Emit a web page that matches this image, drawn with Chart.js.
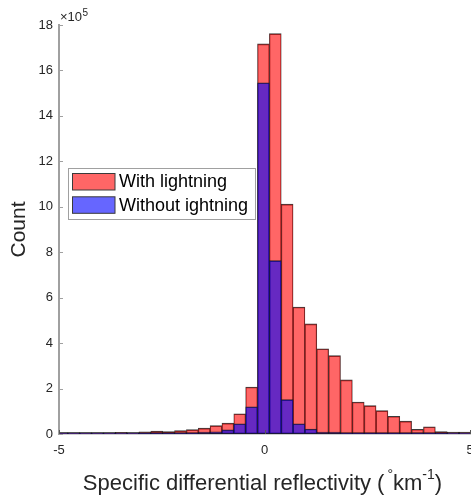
<!DOCTYPE html>
<html>
<head>
<meta charset="utf-8">
<script src="https://cdn.jsdelivr.net/npm/chart.js@4.4.1/dist/chart.umd.min.js"></script>
<style>
  html, body { margin: 0; padding: 0; background: #fff; }
  #wrap { width: 471px; height: 502px; }
</style>
</head>
<body>
<div id="wrap"><canvas id="grafico-histograma" width="471" height="502"></canvas></div>
<script>
// Centros dos bins (graus/km)
const binCenters = [-4.929, -4.640, -4.352, -4.064, -3.775, -3.487, -3.198, -2.910, -2.622, -2.333,
    -2.045, -1.756, -1.468, -1.180, -0.891, -0.603, -0.314, -0.026, 0.263, 0.551,
    0.839, 1.128, 1.416, 1.705, 1.993, 2.281, 2.570, 2.858, 3.147, 3.435,
    3.723, 4.012, 4.300, 4.589, 4.877];

// Contagens por bin
const withLightning = [4000, 1000, 2000, 6000, 2000, 7000, 3000, 10000, 13000, 11000,
    15000, 19000, 26000, 37000, 48000, 89000, 207000, 1717000, 1762000, 1012000,
    559000, 485000, 375000, 345000, 238000, 141000, 125000, 103000, 78000, 57000,
    21000, 32000, 11000, 8000, 8000];
const withoutLightning = [1000, 1000, 1000, 1000, 1000, 1000, 1000, 1000, 2000, 4000,
    4000, 6000, 9000, 10000, 18000, 45000, 120000, 1546000, 763000, 151000,
    45000, 22000, 9000, 9000, 4000, 2000, 1000, 1000, 1000, 1000,
    1000, 1000, 1000, 1000, 1000];

const seriesLabels = ['With lightning', 'Without ightning'];
const xTickValues = [-5, 0, 5];
const yTickStep = 200000;

const FONTE = "'Liberation Sans', Arial, Helvetica, sans-serif";
const COR_TEXTO = '#262626';
const COR_EIXO = '#a0a0a0';

// Desenha ticks internos, multiplicador x10^5, titulo do eixo x e legenda
const extrasPlugin = {
    id: 'extras',
    afterDraw(chart) {
        const ctx = chart.ctx;
        const area = chart.chartArea;
        const sx = chart.scales.x;
        const sy = chart.scales.y;
        ctx.save();

        // ticks para dentro (estilo MATLAB)
        ctx.strokeStyle = COR_EIXO;
        ctx.lineWidth = 1;
        sy.ticks.forEach(t => {
            const py = Math.round(sy.getPixelForValue(t.value)) + 0.5;
            ctx.beginPath();
            ctx.moveTo(area.left, py);
            ctx.lineTo(area.left + 4, py);
            ctx.stroke();
        });
        ctx.strokeStyle = '#555';
        sx.ticks.forEach(t => {
            const px = Math.round(sx.getPixelForValue(t.value)) + 0.5;
            ctx.beginPath();
            ctx.moveTo(px, area.bottom);
            ctx.lineTo(px, area.bottom - 4);
            ctx.stroke();
        });

        // multiplicador x10^5
        ctx.fillStyle = COR_TEXTO;
        ctx.textBaseline = 'alphabetic';
        ctx.textAlign = 'left';
        ctx.font = '13px ' + FONTE;
        ctx.fillText('\u00d710', area.left + 1, 21);
        const wMult = ctx.measureText('\u00d710').width;
        ctx.font = '10px ' + FONTE;
        ctx.fillText('5', area.left + 1 + wMult + 0.5, 16);

        // titulo do eixo x com sobrescritos
        const partes = [
            { t: 'Specific differential reflectivity (', sup: false },
            { t: '\u00b0', sup: true },
            { t: 'km', sup: false },
            { t: '-1', sup: true },
            { t: ')', sup: false }
        ];
        const fonteNormal = '22px ' + FONTE;
        const fonteSup = '14px ' + FONTE;
        let total = 0;
        partes.forEach(p => {
            ctx.font = p.sup ? fonteSup : fonteNormal;
            p.w = ctx.measureText(p.t).width + (p.t === '\u00b0' ? 3 : 0);
            total += p.w;
        });
        let cx = 262.5 - total / 2;
        const base = 490;
        partes.forEach(p => {
            ctx.font = p.sup ? fonteSup : fonteNormal;
            ctx.fillText(p.t, cx + (p.t === '\u00b0' ? 3 : 0), p.sup ? base - 11 : base);
            cx += p.w;
        });

        // legenda dentro da area do grafico
        const lx = 68.5, ly = 168.5, lw = 187, lh = 51;
        ctx.fillStyle = '#fff';
        ctx.fillRect(lx, ly, lw, lh);
        ctx.strokeStyle = '#a0a0a0';
        ctx.lineWidth = 1;
        ctx.strokeRect(lx, ly, lw, lh);
        const ordem = [0, 1];
        ordem.forEach((i, k) => {
            const ds = chart.data.datasets[i];
            const yTop = 173.5 + k * 23.3;
            ctx.fillStyle = '#fff';
            ctx.fillRect(72.5, yTop, 42.5, 16.5);
            ctx.fillStyle = ds.backgroundColor;
            ctx.fillRect(72.5, yTop, 42.5, 16.5);
            ctx.strokeStyle = '#3a3a3a';
            ctx.strokeRect(72.5, yTop, 42.5, 16.5);
            ctx.fillStyle = '#000';
            ctx.font = '18px ' + FONTE;
            ctx.textBaseline = 'middle';
            ctx.fillText(ds.label, 119, yTop + 9);
        });

        ctx.restore();
    }
};

const ctx = document.getElementById('grafico-histograma').getContext('2d');

new Chart(ctx, {
    type: 'bar',
    data: {
        datasets: [
            {
                label: seriesLabels[0],
                data: binCenters.map((x, i) => ({ x: x, y: withLightning[i] })),
                backgroundColor: 'rgba(255, 0, 0, 0.6)',
                borderColor: 'rgba(25, 25, 25, 0.85)',
                borderWidth: { top: 1, bottom: 1, left: 0.6, right: 0.6 },
                borderSkipped: false,
                minBarLength: 1.5,
                grouped: false,
                order: 2,
                barPercentage: 1,
                categoryPercentage: 1
            },
            {
                label: seriesLabels[1],
                data: binCenters.map((x, i) => ({ x: x, y: withoutLightning[i] })),
                backgroundColor: 'rgba(0, 0, 255, 0.6)',
                borderColor: 'rgba(25, 25, 25, 0.85)',
                borderWidth: { top: 1, bottom: 1, left: 0.6, right: 0.6 },
                borderSkipped: false,
                minBarLength: 1.5,
                grouped: false,
                order: 1,
                barPercentage: 1,
                categoryPercentage: 1
            }
        ]
    },
    options: {
        responsive: false,
        animation: false,
        devicePixelRatio: 1,
        layout: { padding: { top: 25, right: 1, left: 0, bottom: 0 } },
        plugins: {
            legend: { display: false },
            tooltip: { enabled: false }
        },
        scales: {
            x: {
                type: 'linear',
                min: -5,
                max: 5,
                offset: false,
                grid: { display: false, drawTicks: false },
                border: { display: true, color: COR_EIXO, width: 1.5 },
                afterBuildTicks: (scale) => {
                    scale.ticks = xTickValues.map(v => ({ value: v }));
                },
                ticks: {
                    padding: 9,
                    color: COR_TEXTO,
                    font: { size: 13, family: FONTE },
                    maxRotation: 0,
                    autoSkip: false
                },
                afterFit: (scale) => {
                    scale.height = 68;
                    scale.paddingLeft = 0;
                    scale.paddingRight = 0;
                }
            },
            y: {
                min: 0,
                max: 1800000,
                grid: { display: false, drawTicks: false },
                border: { display: true, color: COR_EIXO, width: 2 },
                ticks: {
                    stepSize: yTickStep,
                    padding: 6,
                    color: COR_TEXTO,
                    font: { size: 13, family: FONTE },
                    callback: (v) => String(Math.round(v / 100000))
                },
                title: {
                    display: true,
                    text: 'Count',
                    color: COR_TEXTO,
                    font: { size: 21, family: FONTE },
                    padding: { top: 7, bottom: 0 }
                },
                afterFit: (scale) => {
                    scale.width = 59;
                    scale.paddingTop = 0;
                    scale.paddingBottom = 0;
                }
            }
        }
    },
    plugins: [extrasPlugin]
});
</script>
</body>
</html>
